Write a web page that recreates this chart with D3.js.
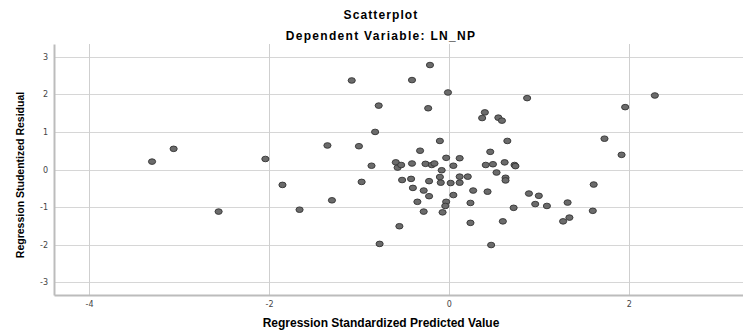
<!DOCTYPE html>
<html>
<head>
<meta charset="utf-8">
<script src="https://cdn.jsdelivr.net/npm/d3@7"></script>
<style>
  body { margin: 0; background: #fff; }
  svg { display: block; font-family: "Liberation Sans", Arial, sans-serif; }
</style>
</head>
<body>
<svg id="chart" width="743" height="331"></svg>
<script>
// standardized predicted value (x) and studentized residual (y)
const predicted = [
  -3.30, -3.06, -2.56, -2.04, -1.85, -1.66, -1.35, -1.30, -1.08, -1.00,
  -0.97, -0.86, -0.82, -0.78, -0.77, -0.59, -0.57, -0.55, -0.53, -0.52,
  -0.42, -0.41, -0.41, -0.40, -0.35, -0.32, -0.28, -0.28, -0.26, -0.23,
  -0.22, -0.22, -0.21, -0.19, -0.16, -0.10, -0.10, -0.09, -0.08, -0.07,
  -0.03, -0.03, -0.04, -0.01, 0.02, 0.05, 0.05, 0.12, 0.12, 0.12,
  0.21, 0.24, 0.24, 0.27, 0.37, 0.40, 0.41, 0.43, 0.46, 0.47,
  0.49, 0.53, 0.55, 0.59, 0.60, 0.62, 0.63, 0.63, 0.65, 0.72,
  0.73, 0.74, 0.87, 0.89, 0.96, 1.00, 1.09, 1.27, 1.32, 1.34,
  1.60, 1.61, 1.73, 1.92, 1.96, 2.29
];
const residual = [
  0.21, 0.55, -1.12, 0.28, -0.41, -1.07, 0.64, -0.82, 2.37, 0.62,
  -0.33, 0.10, 1.00, 1.70, -1.98, 0.19, 0.05, -1.51, 0.12, -0.28,
  -0.25, 2.38, 0.16, -0.49, -0.86, 0.50, -0.56, -1.12, 0.15, 1.63,
  -0.31, -0.71, 2.78, 0.12, 0.16, 0.76, -0.20, -0.35, -0.02, -1.14,
  0.31, -0.86, -0.97, 2.05, -0.36, 0.10, -0.68, 0.30, -0.19, -0.35,
  -0.19, -0.89, -1.42, -0.56, 1.37, 1.52, 0.12, -0.59, 0.47, -2.01,
  0.14, -0.08, 1.38, 1.30, -1.38, 0.19, -0.22, -0.29, 0.76, -1.02,
  0.12, 0.09, 1.90, -0.64, -0.92, -0.70, -0.97, -1.38, -0.88, -1.28,
  -1.10, -0.40, 0.82, 0.39, 1.66, 1.97
];
const xTicks = [-4, -2, 0, 2];
const yTicks = [-3, -2, -1, 0, 1, 2, 3];

const title = "Scatterplot";
const subtitle = "Dependent Variable: LN_NP";
const xLabel = "Regression Standardized Predicted Value";
const yLabel = "Regression Studentized Residual";

const svg = d3.select("#chart");
const plot = { left: 54, right: 743, top: 44, bottom: 295 };

const x = d3.scaleLinear().domain([-4.39, 3.27]).range([plot.left, plot.right]);
const y = d3.scaleLinear().domain([-3.34, 3.34]).range([plot.bottom, plot.top]);

// grid lines
svg.append("g")
  .selectAll("line")
  .data(yTicks)
  .enter().append("line")
    .attr("x1", plot.left).attr("x2", plot.right)
    .attr("y1", d => Math.round(y(d)) + 0.5).attr("y2", d => Math.round(y(d)) + 0.5)
    .attr("stroke", "#d6d6d6");

svg.append("g")
  .selectAll("line")
  .data(xTicks)
  .enter().append("line")
    .attr("x1", d => Math.round(x(d)) + 0.5).attr("x2", d => Math.round(x(d)) + 0.5)
    .attr("y1", plot.top).attr("y2", plot.bottom)
    .attr("stroke", "#cfcfcf");

// axes (no tick marks, just lines + labels)
const fmt = d => String(d);   // plain hyphen, no decimals
const xAxis = d3.axisBottom(x).tickValues(xTicks).tickFormat(fmt).tickSize(0).tickPadding(6);
const yAxis = d3.axisLeft(y).tickValues(yTicks).tickFormat(fmt).tickSize(0).tickPadding(6);

const gx = svg.append("g")
  .attr("transform", "translate(0," + plot.bottom + ")")
  .call(xAxis);
const gy = svg.append("g")
  .attr("transform", "translate(" + plot.left + ",0)")
  .call(yAxis);

[gx, gy].forEach(g => {
  g.select(".domain").attr("stroke", "#bcbcbc").attr("stroke-width", 2);
  g.selectAll(".tick text")
    .attr("fill", "#444")
    .style("font-size", "8px")
    .style("font-family", "'DejaVu Sans', sans-serif");
});

// points
svg.append("g")
  .selectAll("ellipse")
  .data(predicted.map((p, i) => ({ x: p, y: residual[i] })))
  .enter().append("ellipse")
    .attr("cx", d => x(d.x))
    .attr("cy", d => y(d.y))
    .attr("rx", 3.6)
    .attr("ry", 2.8)
    .attr("fill", "#6b6b6b")
    .attr("stroke", "#333")
    .attr("stroke-width", 0.9);

// titles
svg.append("text")
  .attr("x", 381).attr("y", 19)
  .attr("text-anchor", "middle")
  .style("font-size", "12px").style("font-weight", "bold")
  .style("letter-spacing", "1.1px")
  .text(title);

svg.append("text")
  .attr("x", 381).attr("y", 40)
  .attr("text-anchor", "middle")
  .style("font-size", "12px").style("font-weight", "bold")
  .style("letter-spacing", "1.3px")
  .text(subtitle);

svg.append("text")
  .attr("x", 381).attr("y", 327)
  .attr("text-anchor", "middle")
  .style("font-size", "12px").style("font-weight", "bold")
  .text(xLabel);

svg.append("text")
  .attr("transform", "translate(24,175) rotate(-90)")
  .attr("text-anchor", "middle")
  .style("font-size", "10.5px").style("font-weight", "bold")
  .text(yLabel);
</script>
</body>
</html>
